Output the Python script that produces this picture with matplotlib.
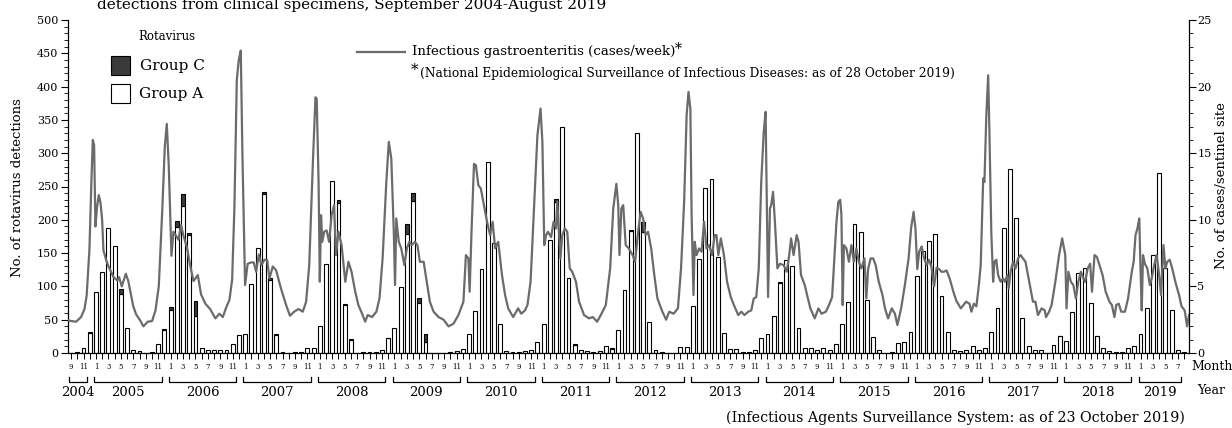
import numpy as np
import matplotlib.pyplot as plt
import matplotlib.transforms as mtransforms
from matplotlib.patches import Rectangle
from matplotlib.lines import Line2D

plt.rcParams['font.family'] = ['DejaVu Serif']
plt.rcParams['mathtext.fontset'] = 'dejavuserif'

# -----------------------------
# DATA (monthly, Sep 2004 - Aug 2019)
# -----------------------------
start_year, start_month = 2004, 9

# total rotavirus detections per month (group A + group C), one row per season Sep-Aug
rota_total = [
    0, 2, 7, 32, 92, 121, 187, 160, 96, 37, 5, 3,
    0, 2, 14, 36, 69, 198, 238, 180, 78, 8, 5, 5,
    5, 4, 13, 27, 28, 103, 157, 242, 112, 28, 2, 0,
    1, 1, 8, 8, 41, 134, 258, 229, 74, 21, 0, 2,
    2, 2, 4, 23, 37, 99, 193, 240, 82, 29, 0, 0,
    0, 1, 3, 6, 29, 63, 126, 287, 165, 44, 3, 1,
    1, 3, 5, 16, 43, 170, 231, 339, 112, 13, 5, 3,
    2, 3, 10, 7, 35, 94, 185, 330, 196, 47, 5, 1,
    0, 0, 9, 9, 71, 141, 247, 261, 144, 30, 6, 6,
    1, 2, 5, 22, 28, 56, 106, 139, 131, 37, 8, 8,
    5, 7, 4, 14, 44, 77, 193, 181, 79, 24, 4, 0,
    2, 15, 16, 32, 116, 153, 168, 179, 86, 31, 4, 3,
    5, 10, 4, 8, 31, 67, 188, 276, 203, 53, 10, 4,
    4, 0, 12, 26, 18, 61, 120, 127, 75, 26, 7, 3,
    2, 2, 8, 11, 28, 67, 147, 271, 127, 64, 5, 2,
]
group_c = [
    0, 0, 0, 2, 0, 0, 0, 0, 7, 0, 0, 0,
    0, 0, 0, 2, 4, 9, 17, 3, 23, 0, 0, 0,
    0, 0, 0, 0, 0, 0, 0, 3, 2, 1, 0, 0,
    0, 0, 0, 0, 0, 0, 0, 4, 2, 1, 0, 0,
    0, 0, 0, 1, 0, 0, 14, 12, 7, 12, 0, 0,
    0, 0, 0, 0, 0, 0, 0, 0, 0, 0, 0, 0,
    0, 0, 0, 0, 0, 0, 4, 0, 0, 1, 0, 0,
    0, 0, 0, 1, 0, 0, 2, 0, 14, 0, 0, 0,
    0, 0, 0, 0, 0, 0, 0, 0, 0, 0, 0, 0,
    0, 0, 0, 0, 0, 0, 1, 0, 0, 0, 0, 0,
    0, 0, 0, 0, 0, 0, 0, 0, 0, 0, 0, 0,
    0, 0, 0, 0, 0, 0, 0, 0, 0, 0, 0, 0,
    0, 0, 0, 0, 0, 0, 0, 0, 0, 0, 0, 0,
    0, 0, 0, 1, 0, 0, 0, 0, 0, 1, 0, 0,
    0, 0, 0, 0, 0, 0, 0, 0, 0, 0, 0, 0,
]
group_a = [t - c for t, c in zip(rota_total, group_c)]

# infectious gastroenteritis, cases per sentinel site per week
# time in months since Sep 2004 (bar index units), value on right axis
gast_t = [
    -0.45, 0.0, 0.8, 1.6, 2.15, 2.5, 2.95, 3.27, 3.49, 3.7, 3.91, 4.18, 4.45, 4.72, 4.99,
    5.2, 5.63, 6.0, 6.43, 6.8, 7.45, 7.72, 8.15, 8.8, 9.2, 10.0, 10.46, 11.1, 11.63, 12.33,
    13.03, 13.57, 14.1, 14.64, 15.07, 15.39, 15.71, 16.14, 16.46, 16.89, 17.27, 17.69, 18.07,
    18.6, 19.14, 19.68, 20.38, 20.9, 21.6, 22.36, 23.2, 23.86, 24.4, 24.93, 25.47, 25.9, 26.27,
    26.65, 26.97, 27.29, 27.55, 27.98, 28.4, 28.95, 29.38, 29.76, 30.19, 30.62, 31.1, 31.53,
    31.9, 32.44, 32.98, 33.78, 34.58, 35.2,
    35.87, 36.57, 37.26, 37.8, 38.3, 38.87, 39.3, 39.5, 39.8, 40.0, 40.2, 40.4, 40.7, 41.1,
    41.5, 41.9, 42.3, 42.6, 43.0, 43.5, 44.1, 44.6, 45.1, 45.7, 46.2, 46.8, 47.3, 47.7, 48.4,
    49.1, 49.6, 50.1, 50.7, 51.1, 51.5, 51.9, 52.1, 52.3, 52.7, 53.1, 53.6, 54.0, 54.4, 54.8,
    55.3, 55.7, 56.1, 56.7, 57.2, 57.7, 58.3, 59.1, 59.9, 60.7, 61.5, 62.3, 63.1, 63.5, 63.9,
    64.1, 64.4, 64.8, 65.1, 65.5, 65.9, 66.3, 66.9, 67.4, 67.8, 68.2, 68.7, 69.3, 69.8, 70.3,
    71.1,
    71.9, 72.4, 73.0, 73.4, 73.9, 74.5, 75.0, 75.5, 75.8, 76.1, 76.4, 76.7, 77.2, 77.6, 78.0,
    78.2, 78.7, 79.0, 79.4, 79.8, 80.2, 80.6, 81.2, 81.7, 82.5, 83.3, 83.9, 84.6, 85.2, 86.0,
    86.7, 87.2, 87.7, 88.0, 88.2, 88.5, 88.8, 89.2, 89.7, 90.3, 90.7, 91.2, 91.6, 92.0, 92.4,
    92.8, 93.3, 93.8, 94.3, 95.1, 95.7, 96.2, 96.9, 97.6, 98.1, 98.6, 99.0, 99.3, 99.6, 99.8,
    100.1, 100.3, 100.6, 101.0, 101.4, 101.8, 102.2, 102.6, 103.1, 103.5, 103.8, 104.1, 104.5,
    105.0, 105.5, 106.1, 106.6, 107.3,
    107.8, 108.3, 108.9, 109.4, 109.8, 110.2, 110.6, 111.0, 111.4, 111.7, 111.9, 112.1, 112.4,
    112.6, 112.9, 113.2, 113.6, 114.0, 114.6, 115.1, 115.5, 115.8, 116.2, 116.7, 117.0, 117.4,
    118.0, 118.5, 118.9, 119.6, 120.2, 120.7, 121.4, 121.9, 122.4, 122.8, 123.1, 123.4, 123.7,
    123.9, 124.1, 124.3, 124.7, 125.1, 125.5, 125.9, 126.3, 126.7, 127.1, 127.6, 127.9, 128.2,
    128.6, 129.0, 129.4, 129.9, 130.5, 130.9, 131.4, 132.0, 132.5, 132.9, 133.5, 134.1, 134.7,
    135.1, 135.5, 135.8, 136.1, 136.4, 136.8, 137.2, 137.6, 138.0, 138.4, 138.8, 139.2, 139.6,
    140.0, 140.4, 140.8, 141.3, 141.9, 142.4, 143.1,
    143.95, 144.5, 144.8, 145.2, 145.6, 146.0, 146.3, 146.7, 146.9, 147.2, 147.5, 147.7, 148.0,
    148.3, 148.5, 148.8, 149.1, 149.5, 149.9, 150.2, 150.6, 150.8, 151.1, 151.5, 151.9, 152.3,
    152.7, 153.1, 153.5, 153.9, 154.3, 154.7, 155.1, 155.5, 156.1, 156.6, 156.8, 157.3, 157.7,
    158.3, 158.9, 159.4, 159.9, 160.1, 160.4, 160.8, 161.2, 161.6, 162.0, 162.4, 162.8, 163.1,
    163.5, 163.9, 164.2, 164.6, 165.0, 165.4, 165.9, 166.4, 167.0, 167.4, 167.8, 168.1, 168.5,
    168.9, 169.5, 170.0, 170.6, 170.9, 171.2, 171.5, 171.8, 172.0, 172.2, 172.4, 172.7, 173.1,
    173.5, 173.8, 174.2, 174.6, 175.0, 175.3, 175.7, 176.0, 176.3, 176.7, 177.1, 177.6, 178.2,
    178.6, 179.1, 179.5, 179.8,
]
gast_v = [
    2.45, 2.4, 2.35, 2.7, 3.3, 4.3, 7.8, 13.0, 16.0, 15.6, 9.5, 11.0, 11.85, 11.3, 10.0,
    7.7, 7.0, 6.5, 6.1, 5.7, 5.45, 5.7, 5.0, 5.95, 5.4, 3.5, 2.9, 2.45, 2.0, 2.35,
    2.4, 3.2, 5.0, 10.5, 15.5, 17.2, 14.0, 7.3, 9.1, 8.8, 8.5, 9.6, 8.8,
    8.0, 6.6, 5.4, 5.85, 4.4, 3.7, 3.3, 2.6, 2.95, 2.7, 3.4, 4.0, 5.5, 11.0,
    20.5, 22.0, 22.7, 15.0, 5.1, 6.7, 6.8, 6.8, 6.1, 7.4, 6.6, 7.0, 7.0,
    5.6, 6.5, 6.2, 4.8, 3.6, 2.8,
    3.1, 3.3, 3.1, 3.85, 6.6, 14.1, 19.2, 19.1, 12.9, 5.35, 10.35, 8.35, 9.1, 9.2,
    8.35, 10.35, 11.1, 7.35, 9.1, 8.1, 5.35, 6.85, 6.1, 4.6, 3.6, 2.95, 2.35, 2.85, 2.7,
    3.1, 4.1, 7.1, 12.85, 15.85, 14.6, 9.1, 5.1, 10.1, 8.35, 7.85, 6.6, 7.85, 8.35, 8.1,
    8.35, 8.1, 6.85, 6.85, 5.35, 3.85, 3.1, 2.7, 2.5, 2.0, 2.2, 2.85, 3.85, 7.35, 7.1,
    4.6, 9.1, 14.2, 14.1, 12.6, 12.35, 11.35, 9.85, 8.85, 9.85, 7.85, 8.35, 5.85, 4.35, 3.35,
    2.7,
    3.35, 2.95, 3.2, 3.6, 5.35, 11.35, 16.35, 18.35, 15.85, 8.1, 8.85, 9.1, 8.7, 9.85, 9.35,
    11.35, 7.1, 8.85, 9.35, 9.1, 6.35, 6.1, 5.35, 3.85, 2.85, 2.6, 2.7, 2.35, 2.85, 3.6,
    6.35, 10.85, 12.7, 11.1, 7.35, 10.85, 11.1, 8.1, 7.85, 7.35, 6.85, 9.1, 10.6, 10.1, 8.85,
    9.1, 7.85, 5.85, 4.1, 3.1, 2.5, 3.1, 2.95, 3.35, 6.35, 11.35, 17.85, 19.6, 18.35, 10.35,
    4.35, 8.35, 7.35, 7.85, 7.6, 9.85, 7.85, 8.1, 7.35, 8.85, 8.85, 7.35, 8.6,
    7.35, 5.35, 4.2, 3.6, 2.85,
    3.1, 2.85, 3.1, 3.2, 4.1, 4.2, 6.35, 12.85, 16.6, 18.1, 10.85, 4.2, 10.85,
    11.1, 12.1, 9.85, 6.35, 6.7, 6.6, 6.1, 7.35, 8.6, 7.35, 8.85, 8.35, 5.85,
    5.1, 4.1, 3.35, 2.6, 3.35, 2.95, 3.1, 3.6, 4.2, 7.35, 9.85, 11.35, 11.5,
    10.35, 3.6, 8.1, 7.85, 6.85, 8.1, 6.85, 7.85, 6.85, 6.35, 7.1, 4.1, 6.35,
    7.1, 7.1, 6.6, 5.35, 4.35, 3.35, 2.6, 3.35, 2.95, 2.1, 3.35, 5.1, 7.1,
    9.35, 10.6, 9.35, 6.3, 7.6, 8.0, 7.1, 6.6, 7.0, 6.4, 5.0, 6.4, 6.3,
    6.1, 6.1, 6.2, 5.6, 4.6, 3.9, 3.35,
    3.85, 3.7, 3.1, 3.7, 3.5, 5.1, 6.6, 13.1, 12.85, 17.85, 20.85, 16.6, 9.1,
    5.35, 6.85, 7.0, 5.85, 5.35, 5.6, 5.35, 5.85, 4.85, 6.1, 6.85, 6.35, 7.1,
    7.35, 7.1, 6.85, 5.85, 4.85, 3.85, 3.85, 2.85, 3.35, 3.2, 2.7, 3.1, 3.6,
    5.35, 7.35, 8.6, 7.35, 3.35, 6.1, 5.35, 5.1, 4.1, 5.35, 6.1, 5.6, 5.35,
    6.35, 6.7, 4.6, 7.35, 7.2, 6.6, 5.85, 4.6, 3.85, 3.6, 2.7, 3.6, 3.7,
    3.1, 3.1, 4.1, 6.1, 6.85, 8.85, 9.35, 10.1, 6.35, 3.2, 7.35, 6.7, 6.35,
    5.1, 5.6, 6.6, 7.35, 5.85, 4.35, 8.1, 6.35, 6.85, 7.0, 6.35, 5.35, 4.35,
    3.5, 3.2, 2.0, 2.85,
]

# -----------------------------
# MONTH / YEAR LABELS
# -----------------------------
n_months = len(rota_total)
months = [(start_month - 1 + k) % 12 + 1 for k in range(n_months)]
years = [start_year + (start_month - 1 + k) // 12 for k in range(n_months)]
month_labels = [str(m) if m % 2 == 1 else "" for m in months]

# -----------------------------
# PLOT
# -----------------------------
W, H = 1232, 428
def fx(px):
    return px / W
def fy(py):
    return 1 - py / H

fig = plt.figure(figsize=(W / 100, H / 100), dpi=100)
ax = fig.add_axes([fx(68), fy(353), (1189 - 68) / W, 333 / H])

x = np.arange(n_months)
bar_w = 0.62
ax.bar(x, group_a, width=bar_w, color="white", edgecolor="black", linewidth=0.8, zorder=2)
c_idx = [k for k in range(n_months) if group_c[k] > 0]
ax.bar(x[c_idx], [group_c[k] for k in c_idx], bottom=[group_a[k] for k in c_idx],
       width=bar_w, color="#3a3a3a", edgecolor="black", linewidth=0.8, zorder=2)

ax.set_xlim(-0.5, 179.8)
ax.set_ylim(0, 500)
ax.set_yticks(np.arange(0, 501, 50))
ax.set_yticks(np.arange(0, 501, 10), minor=True)
ax.set_xticks(x)
ax.set_xticklabels(month_labels, fontsize=5)
ax.tick_params(axis="x", direction="out", length=4, width=0.7, pad=3)
ax.tick_params(axis="y", which="major", direction="out", length=5, width=0.8, labelsize=8, pad=2)
ax.tick_params(axis="y", which="minor", direction="out", length=3, width=0.6)
for s in ["top", "right"]:
    ax.spines[s].set_visible(False)
ax.spines["left"].set_linewidth(0.9)
ax.spines["bottom"].set_linewidth(0.9)

ax2 = ax.twinx()
ax2.plot(gast_t, gast_v, color="#6b6b6b", linewidth=1.6, zorder=3)
ax2.set_ylim(0, 25)
ax2.set_yticks(np.arange(0, 26, 5))
ax2.set_yticks(np.arange(0, 26, 1), minor=True)
ax2.tick_params(axis="y", which="major", direction="out", length=5, width=0.8, labelsize=8, pad=1)
ax2.tick_params(axis="y", which="minor", direction="out", length=3, width=0.6)
for s in ["top", "left", "bottom"]:
    ax2.spines[s].set_visible(False)
ax2.spines["right"].set_linewidth(0.9)

# year brackets under the month labels
trans = mtransforms.blended_transform_factory(ax.transData, ax.transAxes)
y_line = (353 - 382) / 333
y_end = (353 - 377) / 333
y_year = (353 - 392) / 333
for yr in sorted(set(years)):
    idx = [k for k in range(n_months) if years[k] == yr]
    x0, x1 = idx[0] - 0.3, idx[-1] - 0.45
    ax.plot([x0, x0, x1, x1], [y_end, y_line, y_line, y_end], transform=trans,
            color="black", linewidth=0.9, clip_on=False)
    ax.text((x0 + x1) / 2, y_year, str(yr), transform=trans, ha="center", va="center",
            fontsize=9.5)

fig.text(fx(1191), fy(366), "Month", ha="left", va="center", fontsize=9)
fig.text(fx(1197), fy(391), "Year", ha="left", va="center", fontsize=9)

# axis titles
fig.text(fx(18), fy(188), "No. of rotavirus detections", rotation=90, ha="center", va="center", fontsize=9.5)
fig.text(fx(1222), fy(186), "No. of cases/sentinel site", rotation=90, ha="center", va="center", fontsize=9.5)

# legend: rotavirus groups
fig.text(fx(167), fy(37), "Rotavirus", ha="center", va="center", fontsize=8.5)
fig.patches.append(Rectangle((fx(111), fy(75)), 19 / W, 19 / H, facecolor="#3a3a3a",
                             edgecolor="black", linewidth=0.8, transform=fig.transFigure))
fig.patches.append(Rectangle((fx(111), fy(103)), 19 / W, 19 / H, facecolor="white",
                             edgecolor="black", linewidth=0.8, transform=fig.transFigure))
fig.text(fx(140), fy(66), "Group C", ha="left", va="center", fontsize=11)
fig.text(fx(139), fy(94), "Group A", ha="left", va="center", fontsize=11)

# legend: gastroenteritis line
fig.add_artist(Line2D([fx(357), fx(405)], [fy(52), fy(52)], color="#6b6b6b", linewidth=1.6,
                      transform=fig.transFigure))
fig.text(fx(412), fy(52), "Infectious gastroenteritis (cases/week)", ha="left", va="center",
         fontsize=9.6)
fig.text(fx(675), fy(49), "*", ha="left", va="center", fontsize=10)
fig.text(fx(411), fy(70), "*", ha="left", va="center", fontsize=11)
fig.text(fx(420), fy(73), "(National Epidemiological Surveillance of Infectious Diseases: as of 28 October 2019)",
         ha="left", va="center", fontsize=8.8)

# title (cut at top, as in the source figure) and source
fig.text(fx(97), fy(8.5), "detections from clinical specimens, September 2004-August 2019",
         ha="left", va="baseline", fontsize=11)
fig.text(fx(1185), fy(418), "(Infectious Agents Surveillance System: as of 23 October 2019)",
         ha="right", va="center", fontsize=10.3)

fig.savefig("out.png", dpi=100)
